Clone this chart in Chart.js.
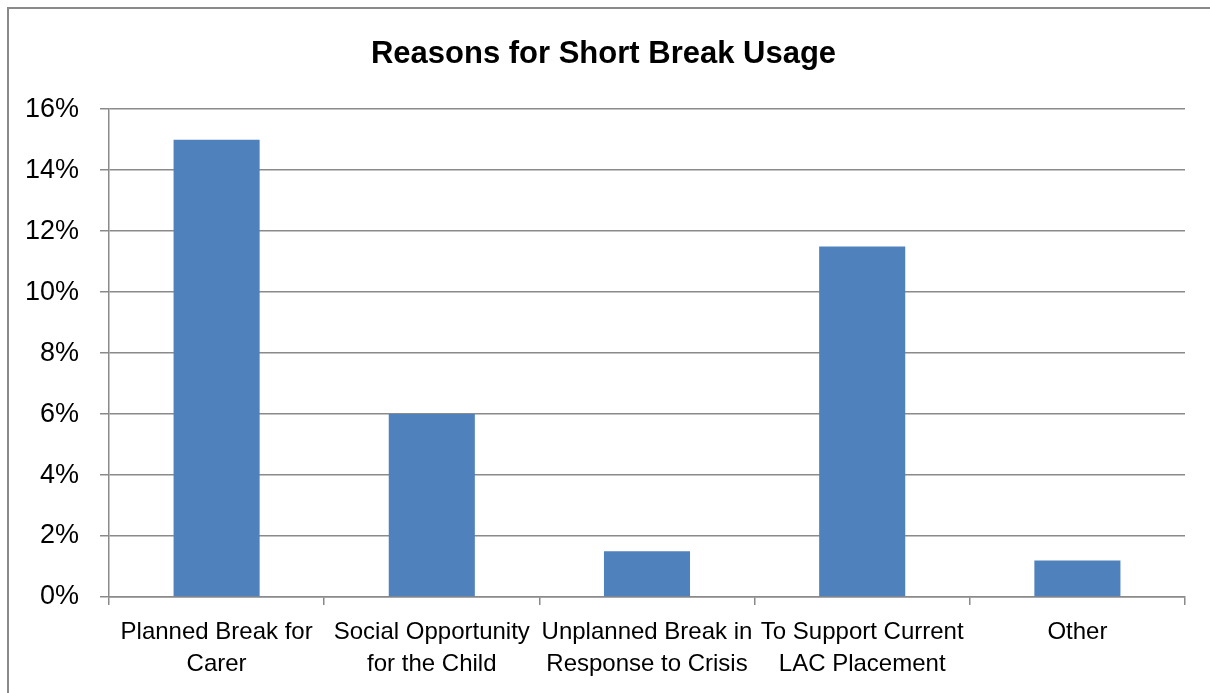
<!DOCTYPE html>
<html>
<head>
<meta charset="utf-8">
<script src="https://cdn.jsdelivr.net/npm/chart.js@4"></script>
<style>
  body { margin: 0; background: #fff; }
  #wrap { position: relative; width: 1210px; height: 693px; }
  #frame { position: absolute; left: 7px; top: 7px; right: -10px; bottom: -10px; border-left: 2px solid #8a8a8a; border-top: 2px solid #8a8a8a; pointer-events: none; }
</style>
</head>
<body>
<div id="wrap">
  <canvas id="myChart"></canvas>
  <div id="frame"></div>
</div>
<script>
// categories (already split into lines as in the picture)
const categories = [
  ['Planned Break for', 'Carer'],
  ['Social Opportunity', 'for the Child'],
  ['Unplanned Break in', 'Response to Crisis'],
  ['To Support Current', 'LAC Placement'],
  ['Other']
];
// percentage of usage
const usage = [15, 6, 1.5, 11.5, 1.2];
// y axis
const yMax = 16;
const yStep = 2;

const gridColor = '#8a8a8a';
const font = 'Liberation Sans, Arial, sans-serif';

const ctx = document.getElementById('myChart').getContext('2d');

const myChart = new Chart(ctx, {
  type: 'bar',
  data: {
    labels: categories,
    datasets: [{
      label: 'Usage',
      data: usage,
      backgroundColor: '#4F81BD',
      borderWidth: 0,
      categoryPercentage: 0.4,
      barPercentage: 1
    }]
  },
  options: {
    responsive: true,
    maintainAspectRatio: false,
    animation: false,
    layout: { padding: { left: 22, right: 25, top: 0, bottom: 0 } },
    plugins: {
      legend: { display: false },
      tooltip: { enabled: false },
      title: {
        display: true,
        text: 'Reasons for Short Break Usage',
        color: '#000',
        font: { family: font, size: 31, weight: 'bold', lineHeight: 1.2 },
        padding: { top: 36, bottom: 36 }
      }
    },
    scales: {
      x: {
        grid: {
          offset: true,
          drawOnChartArea: false,
          drawTicks: true,
          tickLength: 8,
          color: gridColor,
          lineWidth: 1.5
        },
        border: { color: gridColor, width: 1.5 },
        ticks: {
          color: '#000',
          maxRotation: 0,
          autoSkip: false,
          padding: 12,
          font: { family: font, size: 24, lineHeight: 1.32 }
        },
        afterFit: function(scale) { scale.height = 96; }
      },
      y: {
        min: 0,
        max: yMax,
        grid: {
          color: gridColor,
          lineWidth: 1.5,
          drawTicks: true,
          tickLength: 9
        },
        border: { color: gridColor, width: 1.5 },
        ticks: {
          stepSize: yStep,
          color: '#000',
          padding: 21,
          font: { family: font, size: 27 },
          callback: function(v) { return v + '%'; }
        },
        afterFit: function(scale) { scale.width = 87; }
      }
    }
  }
});
</script>
</body>
</html>
